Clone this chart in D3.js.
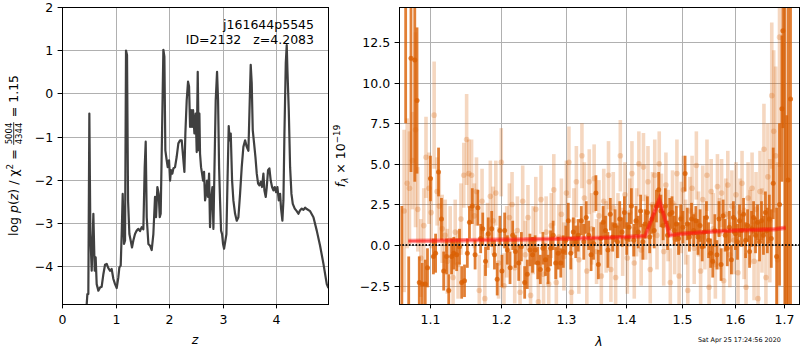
<!DOCTYPE html>
<html>
<head>
<meta charset="utf-8">
<script src="https://cdn.jsdelivr.net/npm/d3@7"></script>
<style>
  body { margin: 0; background: #fff; }
  text { font-family: "DejaVu Sans", sans-serif; }
</style>
</head>
<body>
<script>
'use strict';

// ---- left panel: log p(z) ----
const zGrid = [0.461,0.474,0.492,0.511,0.530,0.555,0.586,0.611,0.629,0.648,
  0.679,0.710,0.741,0.773,0.804,0.835,0.866,0.897,0.928,0.960,
  0.991,1.022,1.053,1.072,1.097,1.115,1.134,1.159,1.178,1.196,
  1.215,1.234,1.259,1.283,1.308,1.333,1.364,1.396,1.427,1.458,
  1.489,1.520,1.545,1.564,1.583,1.614,1.645,1.676,1.707,1.738,
  1.757,1.782,1.807,1.826,1.844,1.869,1.894,1.913,1.931,1.956,
  1.975,2.000,2.019,2.037,2.062,2.081,2.112,2.143,2.174,2.206,
  2.237,2.268,2.287,2.305,2.330,2.355,2.374,2.393,2.411,2.430,
  2.449,2.474,2.498,2.517,2.536,2.555,2.567,2.579,2.598,2.617,
  2.636,2.654,2.673,2.692,2.710,2.729,2.748,2.766,2.785,2.810,
  2.829,2.847,2.872,2.897,2.916,2.935,2.953,2.972,2.991,3.009,
  3.028,3.053,3.072,3.090,3.115,3.134,3.153,3.178,3.202,3.234,
  3.265,3.296,3.327,3.358,3.389,3.421,3.452,3.483,3.508,3.526,
  3.545,3.564,3.589,3.614,3.639,3.664,3.688,3.713,3.738,3.763,
  3.782,3.807,3.826,3.850,3.875,3.900,3.925,3.950,3.975,4.000,
  4.025,4.050,4.075,4.093,4.118,4.137,4.156,4.181,4.199,4.212,
  4.237,4.262,4.287,4.312,4.349,4.386,4.417,4.449,4.480,4.511,
  4.542,4.573,4.636,4.698,4.760,4.822,4.885,4.947,4.978];
const logPz = [-4.90,-4.65,-4.65,-0.47,-3.26,-4.11,-2.79,-4.11,-3.80,-4.42,
  -4.57,-4.50,-4.48,-4.19,-3.97,-3.95,-4.05,-4.11,-4.07,-4.30,
  -4.42,-4.51,-4.26,-4.03,-3.99,-3.26,-2.33,-3.49,-3.41,0.99,
  0.89,-2.48,-3.26,-3.41,-3.57,-3.41,-3.26,-3.18,-3.14,-3.19,
  -3.10,-3.15,-1.71,-1.12,-2.87,-3.49,-3.53,-3.63,-3.26,-2.40,
  -2.87,-2.17,-2.33,-2.87,-2.79,-0.93,1.01,0.85,-1.32,-1.55,
  -1.71,-1.55,-2.02,-1.78,-1.86,-1.74,-1.71,-1.47,-1.16,-1.09,
  -1.09,-1.55,-1.82,-0.93,-0.16,0.27,0.16,-0.78,-0.39,-0.78,
  -0.39,-0.93,-0.47,-1.36,0.50,-1.32,-0.47,-1.40,-1.71,-1.86,
  -2.02,-1.82,-2.48,-2.33,-2.02,-2.40,-1.86,-3.10,-2.48,-2.17,
  -3.14,-1.86,-0.16,0.50,-0.16,-1.71,-2.48,-3.18,-3.26,-3.49,
  -3.60,-3.41,-3.26,-2.17,-0.76,-1.09,-0.93,-2.02,-2.48,-2.79,
  -2.95,-2.87,-2.33,-1.71,-1.24,-1.09,-1.24,-1.33,-0.16,0.66,
  0.23,-0.85,-1.16,-1.47,-1.86,-2.09,-2.13,-2.05,-2.17,-1.86,
  -2.25,-2.40,-2.17,-1.78,-1.74,-2.02,-2.17,-2.25,-2.17,-2.29,
  -2.17,-2.48,-2.33,-2.67,-2.95,-2.48,-0.93,0.70,1.12,0.54,
  -0.39,-1.71,-2.33,-2.56,-2.67,-2.73,-2.79,-2.71,-2.67,-2.70,
  -2.65,-2.68,-2.73,-2.87,-3.18,-3.53,-3.95,-4.42,-4.51];
const zTicks = [0, 1, 2, 3, 4];
const pTicks = [-4, -3, -2, -1, 0, 1, 2];

// ---- right panel: spectrum, strong exposures ----
const lamDark = [1.063,1.068,1.072,1.075,1.080,1.083,1.086,1.090,1.094,1.097,
  1.101,1.105,1.108,1.112,1.116,1.119,1.123,1.126,1.130,1.133,
  1.137,1.141,1.144,1.148,1.152,1.155,1.159,1.163,1.167,1.171,
  1.174,1.178,1.182,1.187,1.191,1.195,1.199,1.202,1.206,1.210,
  1.214,1.218,1.222,1.227,1.231,1.236,1.240,1.244,1.248,1.252,
  1.256,1.260,1.264,1.268,1.272,1.276,1.280,1.284,1.288,1.292,
  1.296,1.300,1.304,1.308,1.312,1.316,1.320,1.325,1.329,1.333,
  1.337,1.341,1.345,1.349,1.353,1.357,1.361,1.365,1.369,1.373,
  1.377,1.381,1.385,1.389,1.393,1.397,1.401,1.405,1.409,1.413,
  1.417,1.421,1.425,1.429,1.433,1.437,1.441,1.445,1.449,1.453,
  1.457,1.461,1.465,1.469,1.473,1.477,1.481,1.485,1.489,1.493,
  1.497,1.501,1.505,1.509,1.513,1.517,1.521,1.525,1.529,1.533,
  1.537,1.541,1.545,1.549,1.553,1.557,1.561,1.565,1.569,1.573,
  1.577,1.581,1.585,1.589,1.593,1.597,1.601,1.605,1.609,1.613,
  1.617,1.621,1.625,1.629,1.633,1.637,1.641,1.645,1.649,1.653,
  1.657,1.661,1.665,1.669,1.673,1.677,1.684,1.690,1.695,1.697,
  1.701,1.705,1.708,1.713];
const fluxDark = [-6.0,16.0,-8.0,11.5,11.4,8.9,-2.3,-2.4,-2.4,-1.4,
  4.1,-0.7,-0.5,4.5,1.6,-1.6,-0.7,-2.8,-0.7,-0.5,
  -0.6,-0.1,-2.3,-2.2,-0.5,1.4,2.4,-0.6,2.3,0.4,
  1.0,-1.0,0.7,1.0,-0.6,-2.1,0.9,-1.6,0.9,-0.3,
  -1.4,0.6,-0.4,-1.1,-0.1,-2.3,-1.8,-0.3,-0.6,-0.3,
  -1.1,-1.5,-0.2,-0.9,-1.5,-0.2,0.6,-1.1,-0.5,-1.1,
  -0.4,0.3,1.5,-0.5,0.8,0.2,0.6,1.5,0.2,1.7,
  0.6,-0.6,0.1,3.2,-1.2,0.4,1.4,0.9,-0.3,1.9,
  0.5,1.2,0.2,1.6,0.8,2.0,0.4,1.1,2.4,0.3,
  1.5,0.8,2.1,0.2,1.3,2.0,0.5,1.6,0.9,2.4,
  3.4,2.1,1.2,2.4,0.6,1.9,2.0,0.9,1.3,0.4,
  1.6,1.1,4.4,1.3,0.5,1.6,0.9,1.5,0.5,1.2,
  -0.1,0.8,1.7,0.3,-0.5,-1.0,0.9,-0.6,1.6,-1.2,
  1.8,0.6,-0.2,1.1,-0.9,1.7,0.7,0.2,1.5,0.9,
  1.9,0.3,1.2,-0.4,1.0,1.7,0.6,1.4,0.2,1.5,
  0.6,2.0,0.9,1.6,0.4,3.8,-0.7,2.5,8.4,13.2,
  16.0,-6.0,4.0,9.0];
const errDark = [8.4,8.5,7.3,7.0,7.5,4.5,1.6,1.3,1.5,1.2,
  1.4,1.1,1.2,1.5,1.3,1.2,1.1,1.0,1.1,1.0,
  1.0,1.1,1.0,1.0,0.9,1.0,1.1,0.9,1.1,0.9,
  1.0,0.9,1.0,1.1,0.9,1.0,0.9,1.0,1.1,0.9,
  1.0,0.9,1.0,1.1,0.9,1.0,0.9,1.0,1.1,0.9,
  1.0,0.9,1.0,1.0,0.9,1.1,0.9,1.0,1.0,0.9,
  1.0,0.9,1.1,1.0,0.9,1.0,1.0,0.9,1.1,1.0,
  0.9,1.0,1.0,1.1,0.9,1.0,1.0,0.9,1.1,1.0,
  0.9,1.0,1.0,1.1,0.9,1.0,1.0,0.9,1.1,1.0,
  0.9,1.0,1.0,1.1,0.9,1.0,1.0,0.9,1.1,1.0,
  1.1,1.0,0.9,1.1,0.9,1.0,1.0,0.9,1.1,1.0,
  0.9,1.0,1.1,1.0,0.9,1.0,1.0,0.9,1.1,1.0,
  0.9,1.0,1.0,1.1,0.9,1.0,1.0,0.9,1.1,1.0,
  1.0,1.0,1.1,1.0,0.9,1.0,1.0,1.1,1.0,1.0,
  1.0,1.1,1.0,1.0,1.1,1.0,1.1,1.1,1.2,1.2,
  1.2,1.3,1.4,1.5,1.8,2.2,3.0,5.0,4.5,6.0,
  22.0,14.0,22.0,15.0];

// ---- right panel: spectrum, faint exposures ----
const lamLight = [1.066,1.070,1.073,1.077,1.081,1.084,1.088,1.092,1.095,1.099,
  1.102,1.106,1.110,1.113,1.117,1.121,1.124,1.128,1.132,1.135,
  1.139,1.143,1.147,1.151,1.154,1.158,1.162,1.165,1.169,1.173,
  1.177,1.181,1.185,1.189,1.193,1.197,1.201,1.205,1.209,1.213,
  1.217,1.221,1.225,1.229,1.233,1.237,1.241,1.245,1.249,1.253,
  1.257,1.261,1.265,1.269,1.273,1.277,1.281,1.285,1.289,1.293,
  1.297,1.301,1.305,1.309,1.313,1.317,1.321,1.326,1.330,1.334,
  1.338,1.342,1.346,1.350,1.354,1.358,1.362,1.366,1.370,1.374,
  1.378,1.382,1.386,1.390,1.394,1.398,1.402,1.406,1.410,1.414,
  1.418,1.422,1.426,1.430,1.434,1.438,1.442,1.446,1.450,1.454,
  1.458,1.462,1.466,1.470,1.474,1.478,1.482,1.486,1.490,1.494,
  1.498,1.502,1.506,1.510,1.514,1.518,1.522,1.526,1.530,1.534,
  1.538,1.542,1.546,1.550,1.554,1.558,1.562,1.566,1.570,1.574,
  1.578,1.582,1.586,1.590,1.594,1.598,1.602,1.606,1.610,1.614,
  1.618,1.622,1.626,1.630,1.634,1.638,1.642,1.646,1.650,1.654,
  1.658,1.662,1.666,1.670,1.674,1.678,1.682,1.686,1.690];
const fluxLight = [2.1,3.8,3.5,5.2,7.1,2.2,-0.8,1.2,5.4,3.5,
  2.0,8.0,3.3,2.4,1.0,0.6,-1.0,0.3,-2.0,0.8,
  -1.2,1.6,4.3,6.5,4.4,4.3,1.8,3.3,-2.8,2.7,
  -3.3,0.6,3.0,1.5,3.2,-1.1,5.1,-2.5,0.2,1.7,
  2.5,-1.4,0.9,-2.9,2.7,-0.6,1.7,-3.1,0.3,2.2,
  -3.5,2.8,-1.8,0.8,-2.4,1.2,3.4,-2.3,0.5,1.9,
  -0.7,3.2,5.1,-2.9,1.5,3.9,-0.9,5.5,2.9,-1.6,
  3.9,1.0,4.1,-0.4,1.8,-1.9,2.7,0.5,4.3,-1.5,
  2.3,-2.0,1.2,5.5,0.2,3.1,-0.8,2.0,4.4,-1.1,
  1.4,5.0,-0.3,4.8,1.1,3.9,-1.5,2.5,4.3,0.6,
  5.0,2.2,-0.4,3.7,1.2,-2.3,2.6,0.4,4.4,-1.9,
  1.7,3.4,0.8,-2.8,2.1,3.5,-0.2,4.9,1.3,-1.6,
  2.8,0.5,4.3,-2.6,3.3,1.0,-1.2,3.6,0.7,3.2,
  -2.2,1.9,3.7,-0.6,2.4,0.3,3.1,-1.7,2.0,3.8,
  0.1,-2.6,2.9,1.1,3.5,-1.0,2.2,-3.3,3.3,0.9,
  5.9,-2.0,4.2,1.5,9.2,7.0,5.5,-0.9,12.8];
const errLight = [5.0,4.0,3.5,3.0,6.0,2.6,2.4,2.3,2.5,2.2,
  2.2,3.3,2.1,2.0,2.1,2.2,2.0,2.1,2.2,2.0,
  2.1,2.2,2.0,2.8,2.1,2.2,2.0,2.1,2.2,2.0,
  2.1,2.0,2.2,2.1,2.0,2.2,2.1,2.0,2.2,2.1,
  2.0,2.2,2.1,2.0,2.2,2.1,2.0,2.2,2.1,2.0,
  2.2,2.1,2.0,2.2,2.1,2.0,2.2,2.1,2.0,2.2,
  2.1,2.0,2.2,2.1,2.0,2.2,2.1,2.0,2.2,2.1,
  2.0,2.2,2.1,2.0,2.2,2.1,2.0,2.2,2.1,2.0,
  2.2,2.1,2.0,2.2,2.1,2.0,2.2,2.1,2.0,2.2,
  2.1,2.0,2.2,2.1,2.0,2.2,2.1,2.0,2.2,2.1,
  2.0,2.2,2.1,2.0,2.2,2.1,2.0,2.2,2.1,2.0,
  2.2,2.1,2.0,2.2,2.1,2.0,2.2,2.1,2.0,2.2,
  2.1,2.0,2.2,2.1,2.0,2.2,2.1,2.0,2.2,2.1,
  2.0,2.2,2.1,2.0,2.2,2.1,2.0,2.2,2.1,2.0,
  2.2,2.1,2.2,2.3,2.2,2.4,2.3,2.4,2.5,2.6,
  2.8,3.0,3.3,3.8,4.5,5.0,5.5,6.0,8.0];

// best-fit template
const lamModel = [1.0715,1.15,1.25,1.35,1.40,1.433,1.458,1.477,1.50,1.55,1.60,1.65,1.68,1.703];
const fluxModel = [0.25,0.29,0.36,0.43,0.50,0.56,2.78,0.60,0.70,0.82,0.90,0.95,0.97,1.07];

const lamTicks = [1.1, 1.2, 1.3, 1.4, 1.5, 1.6, 1.7];
const fluxTicks = [-2.5, 0, 2.5, 5, 7.5, 10, 12.5];

const objName = 'j161644p5545';
const objInfo = 'ID=2132   z=4.2083';
const stamp = 'Sat Apr 25 17:24:56 2020';

const ORANGE = '#d95f02';
const GRID = '#b0b0b0';

const svg = d3.select('body').append('svg')
  .attr('width', 800)
  .attr('height', 350);

const boxL = {x0: 62, x1: 328, y0: 7, y1: 304};
const boxR = {x0: 399, x1: 799, y0: 7, y1: 304};

const xZ = d3.scaleLinear().domain([0, 4.97]).range([boxL.x0, boxL.x1]);
const yP = d3.scaleLinear().domain([-4.88, 2]).range([boxL.y1, boxL.y0]);
const xLam = d3.scaleLog().domain([1.0593, 1.7309]).range([boxR.x0, boxR.x1]);
const yFlux = d3.scaleLinear().domain([-3.628, 14.657]).range([boxR.y1, boxR.y0]);

function drawGrid(box, xs, ys, xt, yt) {
  let g = svg.append('g');
  let xr = xs.copy().rangeRound(xs.range());
  let yr = ys.copy().rangeRound(ys.range());
  g.selectAll('.gx').data(xt).enter().append('line')
    .attr('x1', d => xr(d) + 0.5).attr('x2', d => xr(d) + 0.5)
    .attr('y1', box.y0).attr('y2', box.y1)
    .attr('stroke', GRID).attr('stroke-width', 1);
  g.selectAll('.gy').data(yt).enter().append('line')
    .attr('y1', d => yr(d) + 0.5).attr('y2', d => yr(d) + 0.5)
    .attr('x1', box.x0).attr('x2', box.x1)
    .attr('stroke', GRID).attr('stroke-width', 1);
}

function drawAxes(box, xs, ys, xt, yt, xfmt, yfmt) {
  let xr = xs.copy().rangeRound(xs.range());
  let yr = ys.copy().rangeRound(ys.range());
  let xAxis = d3.axisBottom(xr).tickValues(xt).tickFormat(xfmt)
    .tickSize(4.4).tickSizeOuter(0).tickPadding(7.2);
  let gx = svg.append('g')
    .attr('transform', 'translate(0,' + box.y1 + ')')
    .call(xAxis);
  let yAxis = d3.axisLeft(yr).tickValues(yt).tickFormat(yfmt)
    .tickSize(4.4).tickSizeOuter(0).tickPadding(4.4);
  let gy = svg.append('g')
    .attr('transform', 'translate(' + box.x0 + ',0)')
    .call(yAxis);
  [gx, gy].forEach(g => {
    g.select('.domain').remove();
    g.attr('font-family', '"DejaVu Sans", sans-serif').attr('font-size', 12.5);
    g.selectAll('.tick line').attr('stroke', '#000').attr('stroke-width', 1);
    g.selectAll('.tick text').attr('fill', '#000');
  });
  svg.append('rect')
    .attr('x', box.x0 + 0.5).attr('y', box.y0 + 0.5)
    .attr('width', box.x1 - box.x0).attr('height', box.y1 - box.y0)
    .attr('fill', 'none').attr('stroke', '#000').attr('stroke-width', 1);
}

function clipFor(id, box) {
  svg.append('clipPath').attr('id', id).append('rect')
    .attr('x', box.x0).attr('y', box.y0)
    .attr('width', box.x1 - box.x0).attr('height', box.y1 - box.y0);
  return svg.append('g').attr('clip-path', 'url(#' + id + ')');
}

// ---------- left panel ----------
drawGrid(boxL, xZ, yP, zTicks, pTicks);
let plotL = clipFor('clipL', boxL);
plotL.append('path')
  .datum(d3.zip(zGrid, logPz))
  .attr('d', d3.line().x(d => xZ(d[0])).y(d => yP(d[1])))
  .attr('fill', 'none')
  .attr('stroke', '#404040')
  .attr('stroke-width', 2.2)
  .attr('stroke-linejoin', 'round');
drawAxes(boxL, xZ, yP, zTicks, pTicks, d3.format('d'), d3.format('d'));

svg.append('text')
  .attr('x', 314).attr('y', 28.5)
  .attr('text-anchor', 'end').attr('font-size', 12.5)
  .text(objName);
svg.append('text')
  .attr('x', 314).attr('y', 44)
  .attr('text-anchor', 'end').attr('font-size', 12.5)
  .style('white-space', 'pre')
  .text(objInfo);

// ---------- right panel ----------
drawGrid(boxR, xLam, yFlux, lamTicks, fluxTicks);
let plotR = clipFor('clipR', boxR);

function drawErrPoints(lams, fluxes, errs, barW, barAlpha, r, dotAlpha) {
  let pts = d3.zip(lams, fluxes, errs);
  let g = plotR.append('g');
  g.selectAll('line').data(pts).enter().append('line')
    .attr('x1', d => xLam(d[0])).attr('x2', d => xLam(d[0]))
    .attr('y1', d => yFlux(d[1] - d[2])).attr('y2', d => yFlux(d[1] + d[2]))
    .attr('stroke', ORANGE).attr('stroke-width', barW).attr('stroke-opacity', barAlpha);
  g.selectAll('circle').data(pts).enter().append('circle')
    .attr('cx', d => xLam(d[0])).attr('cy', d => yFlux(d[1]))
    .attr('r', r).attr('fill', ORANGE).attr('fill-opacity', dotAlpha);
}

drawErrPoints(lamLight, fluxLight, errLight, 3.6, 0.25, 2.8, 0.25);
drawErrPoints(lamDark, fluxDark, errDark, 2.8, 0.8, 2.5, 0.8);

let modelLine = d3.line().x(d => xLam(d[0])).y(d => yFlux(d[1]));
let modelPts = d3.zip(lamModel, fluxModel);
plotR.append('path').datum(modelPts).attr('d', modelLine)
  .attr('fill', 'none').attr('stroke', '#ff0000')
  .attr('stroke-width', 4.5).attr('stroke-opacity', 0.4);
plotR.append('path').datum(modelPts).attr('d', modelLine)
  .attr('fill', 'none').attr('stroke', '#ff1a1a')
  .attr('stroke-width', 2).attr('stroke-opacity', 0.55);

plotR.append('line')
  .attr('x1', boxR.x0).attr('x2', boxR.x1)
  .attr('y1', yFlux(0)).attr('y2', yFlux(0))
  .attr('stroke', '#111').attr('stroke-width', 2)
  .attr('stroke-dasharray', '1.6,1.7');

drawAxes(boxR, xLam, yFlux, lamTicks, fluxTicks, d3.format('.1f'), d3.format('.1f'));

// ---------- axis labels ----------
svg.append('text')
  .attr('x', 195).attr('y', 344)
  .attr('text-anchor', 'middle').attr('font-size', 12.5)
  .attr('font-style', 'italic').text('z');
svg.append('text')
  .attr('x', 599).attr('y', 346)
  .attr('text-anchor', 'middle').attr('font-size', 12.5)
  .attr('font-style', 'italic').text('λ');

// left y label: log p(z) / χ² = 5004/4344 = 1.15
(function() {
  let outer = svg.append('g').attr('transform', 'translate(18,155.5) rotate(-90)');
  let g = outer.append('g');
  let t1 = g.append('text').attr('font-size', 12.5).attr('x', 0).attr('y', 0);
  t1.append('tspan').text('log ');
  t1.append('tspan').attr('font-style', 'italic').text('p');
  t1.append('tspan').text('(');
  t1.append('tspan').attr('font-style', 'italic').text('z');
  t1.append('tspan').text(') / χ');
  t1.append('tspan').attr('font-size', 8.8).attr('dy', -5).text('2');
  t1.append('tspan').attr('dy', 5).style('white-space', 'pre').text(' = ');
  let w1 = t1.node().getComputedTextLength();
  let num = g.append('text').attr('font-size', 8.5).attr('y', -6).text('5004');
  let fw = num.node().getComputedTextLength();
  num.attr('x', w1 + 1);
  g.append('text').attr('font-size', 8.5).attr('x', w1 + 1).attr('y', 4).text('4344');
  g.append('line')
    .attr('x1', w1 + 0.5).attr('x2', w1 + fw + 1.5)
    .attr('y1', -4.3).attr('y2', -4.3)
    .attr('stroke', '#000').attr('stroke-width', 0.8);
  let t3 = g.append('text').attr('font-size', 12.5).attr('x', w1 + fw + 2.5)
    .style('white-space', 'pre').text(' = 1.15');
  let total = w1 + fw + 2.5 + t3.node().getComputedTextLength();
  g.attr('transform', 'translate(' + (-total / 2) + ',0)');
})();

// right y label: f_λ × 10^-19
(function() {
  let outer = svg.append('g').attr('transform', 'translate(345,156) rotate(-90)');
  let t = outer.append('text').attr('font-size', 12.5).attr('text-anchor', 'middle');
  t.append('tspan').attr('font-style', 'italic').text('f');
  t.append('tspan').attr('font-style', 'italic').attr('font-size', 8.8).attr('dy', 3).text('λ');
  t.append('tspan').attr('dy', -3).style('white-space', 'pre').text(' × 10');
  t.append('tspan').attr('font-size', 8.8).attr('dy', -5).text('−19');
})();

svg.append('text')
  .attr('x', 698).attr('y', 342)
  .attr('font-size', 6.4)
  .text(stamp);
</script>
</body>
</html>
